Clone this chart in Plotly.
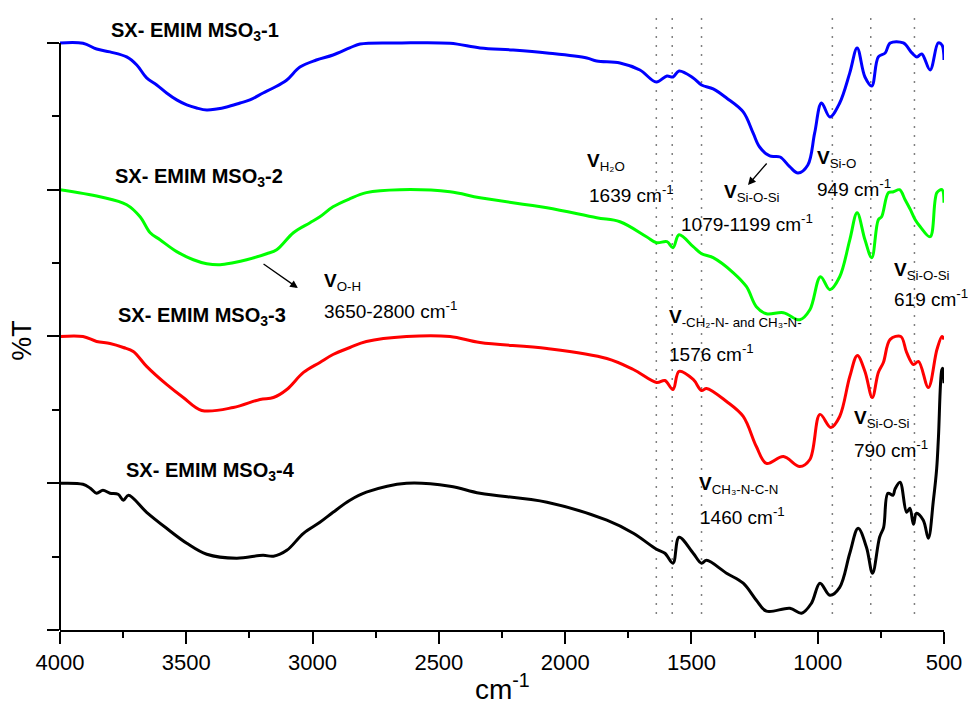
import plotly.graph_objects as go

# ---------------- data (wavenumber cm-1, %T relative to each spectrum's max) ----------------
wn_1 = [4000, 3909, 3855, 3802, 3736, 3696, 3657, 3617, 3578, 3538, 3498, 3459, 3419, 3380, 3340,
        3287, 3248, 3196, 3156, 3102, 3050, 2985, 2919, 2853,
        2812, 2654, 2456, 2337, 2206, 2072, 1914, 1875, 1783, 1704, 1639, 1597, 1573, 1549, 1493,
        1460, 1414, 1361, 1295, 1256, 1230, 1190, 1149, 1110, 1078, 1039, 1012, 985, 952, 913,
        873, 844, 813, 786, 760, 733, 713, 661, 627, 607, 588, 555, 523, 508, 500]
t_1 = [100, 99.8, 95.9, 93.9, 90.5, 85.0, 76.2, 71.4, 65.9, 61.2, 57.8, 55.7, 54.3, 55.0, 56.4,
       59.1, 61.2, 65.9, 69.3, 74.8, 83.6, 88.4, 91.8, 96.6,
       99.3, 100, 99.8, 96.6, 95.2, 93.2, 89.8, 87.7, 86.4, 81.6, 73.4, 77.5, 76.8, 80.9, 76.2,
       71.4, 68.7, 62.5, 53.0, 38.7, 29.1, 23.0, 22.3, 15.5, 11.4, 16.9, 38.7, 59.1, 49.6, 59.1,
       79.6, 96.6, 76.8, 70.7, 90.5, 93.2, 100, 100, 93.2, 90.5, 92.5, 81.6, 100, 98.6, 88.4]

wn_2 = [4000, 3842, 3736, 3683, 3643, 3604, 3538, 3472, 3419, 3366, 3314, 3261, 3182, 3142, 3076,
        3010, 2971, 2919, 2852, 2787,
        2654, 2456, 2337, 2072, 1875, 1783, 1678, 1638, 1597, 1573, 1549, 1493, 1460, 1414, 1334,
        1282, 1243, 1203, 1136, 1071, 1031, 989, 952, 913, 873, 844, 813, 786, 760, 747, 720,
        700, 676, 654, 633, 614, 594, 555, 528, 508, 500]
t_2 = [100, 95.2, 89.8, 81.6, 70.7, 65.9, 57.8, 52.3, 49.6, 48.9, 50.3, 52.3, 56.4, 59.1, 70.7,
       77.5, 81.6, 88.4, 93.9, 98.0,
       100, 98.6, 94.5, 87.7, 80.9, 78.2, 68.0, 63.9, 64.6, 60.5, 69.3, 61.2, 56.4, 53.7, 43.4,
       33.9, 20.3, 15.5, 16.2, 11.4, 18.2, 40.7, 31.9, 40.7, 65.9, 84.3, 65.9, 53.7, 79.6, 81.6, 98.0,
       98.6, 100, 93.2, 86.4, 79.6, 74.8, 68.0, 98.0, 100, 91.1]

wn_3 = [4000, 3909, 3855, 3802, 3749, 3710, 3657, 3578, 3512, 3439, 3314, 3208, 3155, 3102, 3036,
        2971, 2919, 2852, 2787, 2628, 2456, 2337, 2072, 1835, 1730, 1638, 1605, 1573, 1549, 1493,
        1460, 1440, 1361, 1295, 1243, 1203, 1136, 1071, 1031, 991, 948, 913, 873, 843, 813, 784,
        760, 740, 713, 671, 648, 621, 601, 562, 528, 508, 500]
t_3 = [100, 100, 96.6, 95.2, 92.5, 89.8, 79.6, 67.3, 58.4, 49.6, 51.6, 57.1, 58.4, 63.9, 75.5,
       82.3, 87.7, 92.5, 96.6, 100, 100, 95.9, 91.8, 85.0, 77.5, 68.7, 70.0, 63.9, 76.2, 70.7,
       63.2, 64.6, 55.7, 45.5, 25.0, 13.5, 18.2, 11.4, 16.2, 46.9, 38.0, 45.5, 72.7, 87.1, 76.2, 58.4,
       75.5, 82.3, 98.0, 100, 89.1, 80.9, 83.0, 65.2, 91.1, 100, 98.0]

wn_4 = [4000, 3909, 3880, 3855, 3830, 3802, 3770, 3749, 3729, 3657, 3578, 3498, 3419, 3301, 3196,
        3155, 3102, 3036, 2971, 2919, 2852, 2787, 2628, 2456, 2337, 2072, 1835, 1730, 1638, 1605,
        1573, 1549, 1493, 1460, 1440, 1361, 1295, 1243, 1203, 1110, 1064, 1025, 991, 952, 913, 873,
        840, 807, 783, 755, 739, 722, 702, 694, 674, 648, 635, 621, 609, 582, 562, 542, 529, 522,
        509, 505, 500]
t_4 = [100, 99.3, 96.6, 93.2, 95.2, 93.2, 92.5, 88.4, 91.8, 80.2, 69.3, 59.1, 51.6, 48.9, 50.9,
       50.3, 54.3, 65.9, 73.4, 80.2, 88.4, 93.9, 100, 98.0, 93.2, 87.1, 74.8, 65.9, 55.0, 52.3,
       45.5, 63.2, 52.3, 45.5, 47.5, 38.7, 31.9, 20.3, 12.8, 14.8, 11.4, 18.2, 31.9, 23.7, 29.1, 52.3,
       69.3, 56.4, 38.7, 63.2, 70.0, 93.2, 91.8, 96.0, 100.7, 80.2, 83.0, 72.0, 79.6, 74.8, 62.5,
       88.4, 110.0, 131.3, 177.0, 178.4, 168.1]

names = ["SX- EMIM MSO<sub>3</sub>-1", "SX- EMIM MSO<sub>3</sub>-2",
         "SX- EMIM MSO<sub>3</sub>-3", "SX- EMIM MSO<sub>3</sub>-4"]
offsets = [3, 2, 1, 0]
colors = ["#0000FF", "#00FF00", "#FF0000", "#000000"]
series = [(wn_1, t_1), (wn_2, t_2), (wn_3, t_3), (wn_4, t_4)]

# band markers (cm-1)
band_lines = [1639, 1576, 1460, 942, 790, 617]

x_ticks = [4000, 3500, 3000, 2500, 2000, 1500, 1000, 500]
x_minor = [3750, 3250, 2750, 2250, 1750, 1250, 750]
y_major = [0, 1, 2, 3, 4]
y_minor = [0.5, 1.5, 2.5, 3.5]

FONT = "Liberation Sans, Arial, sans-serif"

fig = go.Figure()
for (wn, t), off, col, nm in zip(series, offsets, colors, names):
    fig.add_trace(go.Scatter(
        x=wn, y=[off + v / 100.0 for v in t], mode="lines", name=nm,
        line=dict(color=col, width=3, shape="spline", smoothing=1.0),
        showlegend=False, hoverinfo="skip"))

shapes = []
for b in band_lines:
    shapes.append(dict(type="line", xref="x", yref="paper", x0=b, x1=b, y0=0.027, y1=1.046,
                       line=dict(color="#808080", width=1.5, dash="2px,7px"), layer="below"))
# left axis line (from 0 to top tick)
shapes.append(dict(type="line", xref="paper", yref="y", x0=0, x1=0, y0=0, y1=4,
                   line=dict(color="black", width=2)))

ann = []
def txt(x, y, s, size=19, yref="y", **kw):
    d = dict(x=x, y=y, xref="x", yref=yref, text=s, showarrow=False, xanchor="left",
             yanchor="middle", font=dict(family=FONT, size=size, color="black"))
    d.update(kw)
    ann.append(d)

# sample labels (first one sits above the top tick -> paper coordinates)
txt(3806, 1.0135, "<b>" + names[0] + "</b>", size=20, yref="paper")
lab_pos = [(3792, 3.080), (3780, 2.133), (3745, 1.083)]
for (x, y), nm in zip(lab_pos, names[1:]):
    txt(x, y, "<b>" + nm + "</b>", size=20)

V = "<b>V</b>"
txt(2963, 2.37, V + "<sub>O-H</sub>")
txt(2963, 2.18, "3650-2800 cm<sup>-1</sup>")
txt(1921, 3.19, V + "<sub>H₂O</sub>")
txt(1913, 2.97, "1639 cm<sup>-1</sup>")
txt(1379, 2.975, V + "<sub>Si-O-Si</sub>")
txt(1549, 2.77, "1079-1199 cm<sup>-1</sup>")
txt(1011, 3.21, V + "<sub>Si-O</sub>")
txt(1011, 3.01, "949 cm<sup>-1</sup>")
txt(706, 2.445, V + "<sub>Si-O-Si</sub>")
txt(706, 2.26, "619 cm<sup>-1</sup>")
txt(1597, 2.125, V + "<sub>-CH₂-N- and CH₃-N-</sub>")
txt(1597, 1.89, "1576 cm<sup>-1</sup>")
txt(864, 1.437, V + "<sub>Si-O-Si</sub>")
txt(864, 1.23, "790 cm<sup>-1</sup>")
txt(1478, 0.988, V + "<sub>CH₃-N-C-N</sub>")
txt(1474, 0.775, "1460 cm<sup>-1</sup>")

# arrows
for hx, hy, tx, ty in [(3058, 2.330, 3200, 2.501), (1276, 3.032, 1197, 3.189)]:
    ann.append(dict(x=hx, y=hy, ax=tx, ay=ty, xref="x", yref="y", axref="x", ayref="y",
                    text="", showarrow=True, arrowhead=2, arrowsize=1.2, arrowwidth=1.3,
                    arrowcolor="black"))

# axis titles
ann.append(dict(x=0.5, y=-0.097, xref="paper", yref="paper", text="cm<sup>-1</sup>",
                showarrow=False, xanchor="center", yanchor="middle",
                font=dict(family=FONT, size=28, color="black")))
ann.append(dict(x=-0.043, y=0.491, xref="paper", yref="paper", text="%T", textangle=-90,
                showarrow=False, xanchor="center", yanchor="middle",
                font=dict(family=FONT, size=27, color="black")))

fig.update_layout(
    width=968, height=704, margin=dict(l=60, r=24, t=39, b=74, autoexpand=False),
    paper_bgcolor="white", plot_bgcolor="white",
    shapes=shapes, annotations=ann, showlegend=False,
    xaxis=dict(range=[4000, 500], tickvals=x_ticks, ticktext=[str(v) for v in x_ticks],
               automargin=False,
               ticks="outside", ticklen=12, tickwidth=2, tickcolor="black",
               showline=True, linecolor="black", linewidth=2, showgrid=False, zeroline=False,
               tickfont=dict(family=FONT, size=22, color="black"),
               minor=dict(tickvals=x_minor, ticks="outside", ticklen=6, tickwidth=2,
                          tickcolor="black", showgrid=False)),
    yaxis=dict(range=[0, 4.027], tickvals=y_major, showticklabels=False, automargin=False,
               ticks="outside", ticklen=12, tickwidth=2, tickcolor="black",
               showline=False, showgrid=False, zeroline=False,
               minor=dict(tickvals=y_minor, ticks="outside", ticklen=7, tickwidth=2,
                          tickcolor="black", showgrid=False)),
)

fig.write_html("out.html")
